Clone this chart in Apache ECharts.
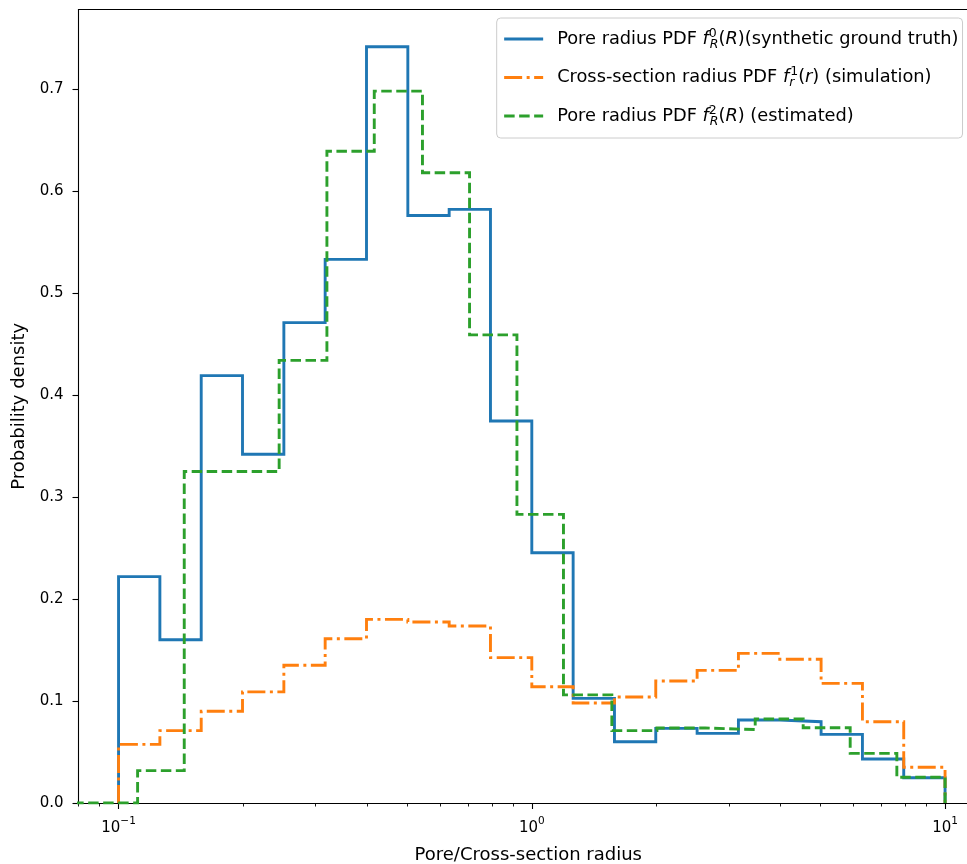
<!DOCTYPE html>
<html>
<head>
<meta charset="utf-8">
<script src="https://cdn.jsdelivr.net/npm/echarts@6/dist/echarts.min.js"></script>
<style>
  html, body { margin: 0; padding: 0; background: #fff; }
  #chart { width: 967px; height: 864px; }
</style>
</head>
<body>
<div id="chart"></div>
<script>
// ---- Data ----
// Bin edges shared by the ground-truth and simulated histograms
const edgesA = [0.1, 0.1259, 0.1585, 0.1995, 0.2512, 0.3162, 0.3981, 0.5012, 0.631, 0.7943,
                1, 1.259, 1.585, 1.995, 2.512, 3.162, 3.981, 5.012, 6.31, 7.943, 10];
const groundTruth = [0.222, 0.160, 0.419, 0.342, 0.471, 0.533, 0.7415, 0.576, 0.582, 0.3745,
                     0.2454, 0.1026, 0.0601, 0.0732, 0.0683, 0.0814, 0.0797, 0.0673, 0.0431, 0.0248];
const simulation  = [0.0575, 0.071, 0.090, 0.109, 0.135, 0.161, 0.180, 0.1775, 0.1735, 0.1425,
                     0.114, 0.098, 0.104, 0.1196, 0.130, 0.1467, 0.141, 0.1173, 0.0797, 0.035];
// Bin edges of the estimated histogram
const edgesB = [0.0657, 0.0855, 0.1112, 0.1442, 0.1879, 0.2447, 0.3193, 0.4157, 0.5438, 0.7069,
                0.9205, 1.193, 1.562, 2.008, 2.628, 3.472, 4.536, 5.894, 7.644, 10];
const estimated = [0, 0, 0.0317, 0.325, 0.325, 0.434, 0.639, 0.698, 0.618, 0.459,
                   0.283, 0.106, 0.071, 0.0735, 0.072, 0.0824, 0.0738, 0.0487, 0.0252];

const seriesNames = [
  'Pore radius PDF f_R^0(R)(synthetic ground truth)',
  'Cross-section radius PDF f_r^1(r) (simulation)',
  'Pore radius PDF f_R^2(R) (estimated)'
];
const legendRich = [
  'Pore radius PDF {it|f}{supw|0}{subi|R}({it|R})(synthetic ground truth)',
  'Cross-section radius PDF {it|f}{subw|r}{sup|1}({it|r}) (simulation)',
  'Pore radius PDF {it|f}{supw|2}{subi|R}({it|R}) (estimated)'
];
const xTickValues = [0.1, 1, 10];
const xMinorTicks = [0.08, 0.09, 0.2, 0.3, 0.4, 0.5, 0.6, 0.7, 0.8, 0.9,
                     2, 3, 4, 5, 6, 7, 8, 9];
const yTickValues = [0, 0.1, 0.2, 0.3, 0.4, 0.5, 0.6, 0.7];

// ---- Build step outlines (matplotlib histtype='step') ----
function stepOutline(edges, values) {
  const pts = [[edges[0], 0]];
  for (let i = 0; i < values.length; i++) {
    pts.push([edges[i], values[i]]);
    pts.push([edges[i + 1], values[i]]);
  }
  pts.push([edges[edges.length - 1], 0]);
  return pts;
}

const FONT = 'DejaVu Sans';
const colors = ['#1f77b4', '#ff7f0e', '#2ca02c'];
const LW = 2.9;
const lineTypes = ['solid', [18, 4.5, 3, 4.5], [10.5, 4.5]];
const LEG_FS = 17.8;
const X_MIN = 0.08, X_MAX = 11.3;

const chart = echarts.init(document.getElementById('chart'), null, { renderer: 'canvas' });

const scriptStyle = (va, withWidth, italic) => {
  const s = { fontFamily: FONT, fontSize: 12.5, lineHeight: 13, verticalAlign: va, color: '#000' };
  if (withWidth) s.width = 1;
  if (italic) s.fontStyle = 'italic';
  return s;
};

const option = {
  animation: false,
  backgroundColor: '#fff',
  grid: {
    left: 78.5, top: 9.5, right: 0, bottom: 61,
    containLabel: false,
    outerBoundsMode: 'none',
    show: false
  },
  legend: {
    orient: 'vertical',
    left: 496.7,
    top: 18,
    align: 'left',
    padding: [9, 4, 10, 6],
    itemGap: 14.5,
    itemWidth: 39,
    itemHeight: 14,
    backgroundColor: 'rgba(255,255,255,0.8)',
    borderColor: '#cccccc',
    borderWidth: 1,
    borderRadius: 4,
    data: seriesNames.map((n, i) => ({
      name: n,
      itemStyle: { opacity: 0, color: 'rgba(0,0,0,0)', borderColor: 'rgba(0,0,0,0)', borderWidth: 0 },
      lineStyle: { color: colors[i], width: LW, type: lineTypes[i] }
    })),
    formatter: name => legendRich[seriesNames.indexOf(name)],
    textStyle: {
      fontFamily: FONT, fontSize: LEG_FS, color: '#000', lineHeight: 24,
      padding: [0, 0, 0, 9],
      rich: {
        it: { fontFamily: FONT, fontSize: LEG_FS, fontStyle: 'italic', lineHeight: 24, color: '#000' },
        sup: scriptStyle('top', false, false),
        supw: scriptStyle('top', true, false),
        subi: scriptStyle('bottom', false, true),
        subw: scriptStyle('bottom', true, true)
      }
    }
  },
  xAxis: [
    {
      type: 'log', logBase: 10, min: X_MIN, max: X_MAX,
      position: 'bottom',
      name: 'Pore/Cross-section radius',
      nameLocation: 'middle', nameGap: 43,
      nameTextStyle: { fontFamily: FONT, fontSize: 18, color: '#000', padding: [0, 0, 0, 11] },
      axisLine: { show: true, lineStyle: { color: '#000', width: 1.1 } },
      axisTick: { show: true, length: 6, inside: false, customValues: xTickValues,
                  lineStyle: { color: '#000', width: 1.1 } },
      axisLabel: {
        customValues: xTickValues,
        margin: 13,
        fontFamily: FONT, fontSize: 15, color: '#000', lineHeight: 24,
        formatter: v => {
          const e = Math.round(Math.log10(v));
          return '10{sup|' + (e < 0 ? '\u2212' + (-e) : e) + '}';
        },
        rich: { sup: { fontFamily: FONT, fontSize: 10.5, lineHeight: 12, verticalAlign: 'top', color: '#000' } }
      },
      splitLine: { show: false },
      minorTick: { show: false }
    },
    {
      type: 'log', logBase: 10, min: X_MIN, max: X_MAX,
      position: 'bottom',
      axisLine: { show: false },
      axisTick: { show: true, length: 3.5, inside: false, customValues: xMinorTicks,
                  lineStyle: { color: '#000', width: 0.9 } },
      axisLabel: { show: false },
      splitLine: { show: false }
    },
    {
      // top spine
      type: 'log', logBase: 10, min: X_MIN, max: X_MAX,
      position: 'top',
      axisLine: { show: true, lineStyle: { color: '#000', width: 1.1 } },
      axisTick: { show: false },
      axisLabel: { show: false },
      splitLine: { show: false }
    }
  ],
  yAxis: {
    type: 'value', min: 0, max: 0.778,
    name: 'Probability density',
    nameLocation: 'middle', nameGap: 50,
    nameTextStyle: { fontFamily: FONT, fontSize: 18, color: '#000' },
    axisLine: { show: true, lineStyle: { color: '#000', width: 1.1 } },
    axisTick: { show: true, length: 6, inside: false, customValues: yTickValues,
                lineStyle: { color: '#000', width: 1.1 } },
    axisLabel: {
      customValues: yTickValues, margin: 15,
      fontFamily: FONT, fontSize: 15, color: '#000',
      formatter: v => v.toFixed(1)
    },
    splitLine: { show: false }
  },
  series: [
    { data: stepOutline(edgesA, groundTruth) },
    { data: stepOutline(edgesA, simulation) },
    { data: stepOutline(edgesB, estimated) }
  ].map((s, i) => ({
    name: seriesNames[i],
    type: 'line',
    xAxisIndex: 0,
    data: s.data,
    symbol: 'none',
    showSymbol: false,
    clip: true,
    color: colors[i],
    lineStyle: { color: colors[i], width: LW, type: lineTypes[i], join: 'miter', cap: 'butt' },
    emphasis: { disabled: true },
    z: 2 + i
  }))
};

chart.setOption(option);
</script>
</body>
</html>
